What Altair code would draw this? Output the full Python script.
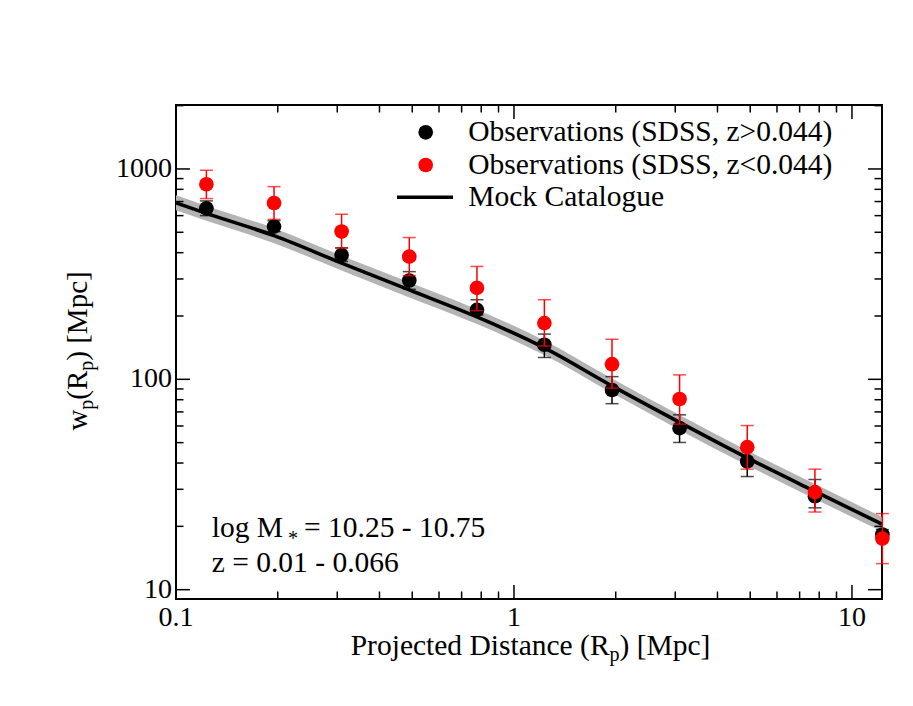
import altair as alt
import pandas as pd

FONT = "Liberation Serif"

# ---------------- data ----------------
rp = [0.123, 0.195, 0.309, 0.49, 0.777, 1.23, 1.95, 3.09, 4.9, 7.77, 12.3]

# Observations (SDSS, z>0.044)  -- black
wp_hiz = [650, 532, 390, 295, 214, 146, 89, 58.6, 40.7, 27.8, 18.3]
wp_hiz_lo = [600, 504, 363, 268, 202, 127, 76.6, 50.1, 34.5, 24.5, 17.3]
wp_hiz_hi = [705, 568, 422, 325, 239, 164, 103, 67.8, 47.0, 33.4, 19.3]

# Observations (SDSS, z<0.044)  -- red
wp_loz = [846, 689, 504, 383, 272, 185, 118, 80.6, 47.6, 29.1, 17.5]
wp_loz_lo = [723, 576, 420, 311, 212, 144, 90.8, 61.2, 37.4, 23.4, 13.3]
wp_loz_hi = [986, 824, 609, 472, 344, 239, 155, 105, 60.3, 37.4, 23.0]

# Mock catalogue line and its grey band
mock_rp = [0.1, 0.123, 0.195, 0.309, 0.49, 0.777, 1.23, 1.95, 3.09, 4.9, 7.77, 12.27]
mock_wp = [690, 615, 482, 357, 266, 198, 141, 93, 62.4, 42.3, 29.3, 20.5]
mock_lo = [636, 567, 444, 329, 245, 183, 130.5, 86.1, 57.5, 39.0, 27.0, 18.9]
mock_hi = [749, 667, 523, 387, 289, 215, 153, 101, 67.7, 45.9, 31.8, 22.2]

x_major = [0.1, 1, 10]
x_major_labels = ["0.1", "1", "10"]
x_minor = [0.2, 0.3, 0.4, 0.5, 0.6, 0.7, 0.8, 0.9, 2, 3, 4, 5, 6, 7, 8, 9]
y_major = [10, 100, 1000]
y_major_labels = ["10", "100", "1000"]
y_minor = [20, 30, 40, 50, 60, 70, 80, 90, 200, 300, 400, 500, 600, 700, 800, 900, 2000]

legend_labels = ["Observations (SDSS, z>0.044)", "Observations (SDSS, z<0.044)", "Mock Catalogue"]

# ---------------- layout ----------------
W, H = 706, 494
XDOM = [0.1, 12.27]
YDOM = [9.03, 2014]
PT = 215

obs_black = pd.DataFrame({"rp": rp, "wp": wp_hiz, "lo": wp_hiz_lo, "hi": wp_hiz_hi})
obs_red = pd.DataFrame({"rp": rp, "wp": wp_loz, "lo": wp_loz_lo, "hi": wp_loz_hi})
mock = pd.DataFrame({"rp": mock_rp, "wp": mock_wp, "lo": mock_lo, "hi": mock_hi})
one = pd.DataFrame({"k": [0]})

xs = alt.Scale(type="log", domain=XDOM, nice=False)
ys = alt.Scale(type="log", domain=YDOM, nice=False)

Xn = alt.X("rp:Q", scale=xs, axis=None)


def Yn(f):
    return alt.Y(f + ":Q", scale=ys, axis=None)


band = alt.Chart(mock).mark_area(color="#b4b4b4", interpolate="monotone").encode(
    x=Xn, y=Yn("lo"), y2="hi:Q")
line = alt.Chart(mock).mark_line(color="black", strokeWidth=3.6, interpolate="monotone").encode(
    x=Xn, y=Yn("wp"))


def errs(df, color):
    bar = alt.Chart(df).mark_rule(color=color, strokeWidth=1.5).encode(x=Xn, y=Yn("lo"), y2="hi:Q")
    cap_lo = alt.Chart(df).mark_tick(color=color, orient="horizontal", size=13, thickness=1.5).encode(
        x=Xn, y=Yn("lo"))
    cap_hi = alt.Chart(df).mark_tick(color=color, orient="horizontal", size=13, thickness=1.5).encode(
        x=Xn, y=Yn("hi"))
    pts = alt.Chart(df).mark_circle(color=color, size=PT, opacity=1).encode(x=Xn, y=Yn("wp"))
    return [bar, cap_lo, cap_hi, pts]


# inward ticks on all four sides
def xticks(vals, length):
    d = pd.DataFrame({"v": vals})
    b = alt.Chart(d).mark_rule(color="black", strokeWidth=1.5).encode(
        x=alt.X("v:Q", scale=xs, axis=None), y=alt.value(H), y2=alt.value(H - length))
    t = alt.Chart(d).mark_rule(color="black", strokeWidth=1.5).encode(
        x=alt.X("v:Q", scale=xs, axis=None), y=alt.value(0), y2=alt.value(length))
    return [b, t]


def yticks(vals, length):
    d = pd.DataFrame({"v": vals})
    l = alt.Chart(d).mark_rule(color="black", strokeWidth=1.5).encode(
        y=alt.Y("v:Q", scale=ys, axis=None), x=alt.value(0), x2=alt.value(length))
    r = alt.Chart(d).mark_rule(color="black", strokeWidth=1.5).encode(
        y=alt.Y("v:Q", scale=ys, axis=None), x=alt.value(W), x2=alt.value(W - length))
    return [l, r]


# tick labels placed through the scales
xlab = alt.Chart(pd.DataFrame({"v": x_major, "t": x_major_labels})).mark_text(
    font=FONT, fontSize=28, align="center", baseline="top", color="black").encode(
    x=alt.X("v:Q", scale=xs, axis=None), y=alt.value(H + 5), text="t:N")
ylab = alt.Chart(pd.DataFrame({"v": y_major, "t": y_major_labels})).mark_text(
    font=FONT, fontSize=28, align="right", baseline="middle", color="black").encode(
    y=alt.Y("v:Q", scale=ys, axis=None), x=alt.value(-4), text="t:N")


def txt(s, px, py, size, angle=0, baseline="alphabetic", align="left"):
    return alt.Chart(one).mark_text(text=s, font=FONT, fontSize=size, align=align,
                                    baseline=baseline, angle=angle, color="black").encode(
        x=alt.value(px), y=alt.value(py))


# legend (top right, inside the frame)
leg = [
    alt.Chart(one).mark_circle(color="black", size=PT, opacity=1).encode(x=alt.value(249.7), y=alt.value(27.3)),
    alt.Chart(one).mark_circle(color="red", size=PT, opacity=1).encode(x=alt.value(249.7), y=alt.value(60)),
    alt.Chart(one).mark_rule(color="black", strokeWidth=3.6).encode(
        x=alt.value(221), x2=alt.value(277), y=alt.value(92.3)),
    txt(legend_labels[0], 292.3, 27.3, 29.5, baseline="middle"),
    txt(legend_labels[1], 292.3, 60, 29.5, baseline="middle"),
    txt(legend_labels[2], 292.3, 92.3, 29.5, baseline="middle"),
]

# annotation
ann = [
    txt("log M", 35.7, 431.7, 29.5),
    txt("*", 112, 440, 20),
    txt("= 10.25 - 10.75", 128, 431.7, 29.5),
    txt("z = 0.01 - 0.066", 35.7, 466.7, 29.5),
]

# axis titles with subscripts
xtitle = [
    txt("Projected Distance (R", 174.7, 550, 29.5),
    txt("p", 433.5, 556, 20),
    txt(") [Mpc]", 443.5, 550, 29.5),
]
ytitle = [
    txt("w", -89, 325.6, 29, angle=270),
    txt("p", -83, 304.7, 20, angle=270),
    txt("(R", -89, 294.7, 29, angle=270),
    txt("p", -83, 265.7, 20, angle=270),
    txt(") [Mpc]", -89, 255.7, 29, angle=270),
]

layers = [band, line] + errs(obs_black, "black") + errs(obs_red, "red")
layers += xticks(x_major, 14) + xticks(x_minor, 7.5) + yticks(y_major, 14) + yticks(y_minor, 7.5)
layers += [xlab, ylab] + leg + ann + xtitle + ytitle

chart = alt.layer(*layers).properties(
    width=W, height=H,
    autosize=alt.AutoSizeParams(type="none"),
    padding={"left": 168, "top": 97, "right": 23, "bottom": 99},
    background="white",
).configure_view(stroke="black", strokeWidth=2)

chart.save("out.html", embed_options={"renderer": "svg", "actions": False})
